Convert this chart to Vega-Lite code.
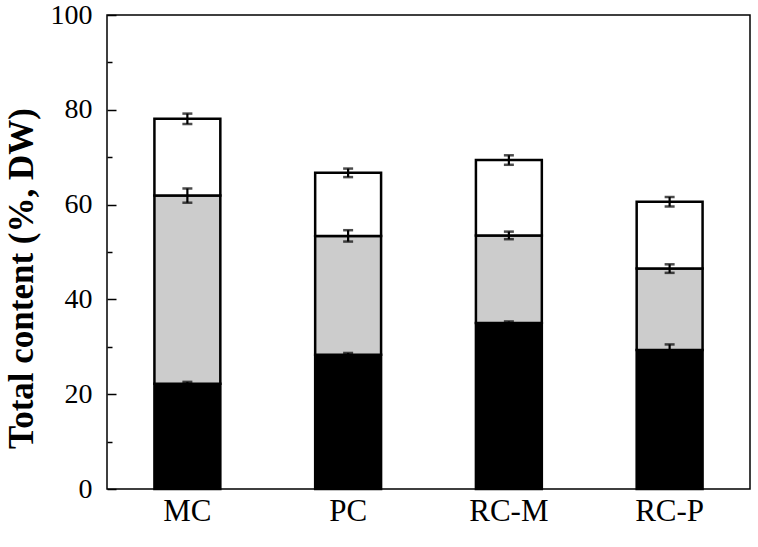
{
  "$schema": "https://vega.github.io/schema/vega-lite/v6.json",
  "width": 643,
  "height": 474,
  "autosize": {"type": "none"},
  "padding": {"left": 107, "top": 15, "right": 8, "bottom": 58},
  "background": "white",
  "config": {
    "view": {"stroke": "black", "strokeWidth": 1.5},
    "font": "Liberation Serif"
  },
  "data": {
    "values": [
      {"cat": "MC", "comp": "c1", "lo": 0, "hi": 22.2, "err": 0.4},
      {"cat": "MC", "comp": "c2", "lo": 22.2, "hi": 61.9, "err": 1.5},
      {"cat": "MC", "comp": "c3", "lo": 61.9, "hi": 78.1, "err": 1.1},
      {"cat": "PC", "comp": "c1", "lo": 0, "hi": 28.3, "err": 0.4},
      {"cat": "PC", "comp": "c2", "lo": 28.3, "hi": 53.4, "err": 1.2},
      {"cat": "PC", "comp": "c3", "lo": 53.4, "hi": 66.7, "err": 0.9},
      {"cat": "RC-M", "comp": "c1", "lo": 0, "hi": 35.0, "err": 0.35},
      {"cat": "RC-M", "comp": "c2", "lo": 35.0, "hi": 53.5, "err": 0.8},
      {"cat": "RC-M", "comp": "c3", "lo": 53.5, "hi": 69.4, "err": 1.0},
      {"cat": "RC-P", "comp": "c1", "lo": 0, "hi": 29.3, "err": 1.2},
      {"cat": "RC-P", "comp": "c2", "lo": 29.3, "hi": 46.5, "err": 0.9},
      {"cat": "RC-P", "comp": "c3", "lo": 46.5, "hi": 60.6, "err": 1.0}
    ]
  },
  "encoding": {
    "x": {
      "field": "cat",
      "type": "nominal",
      "sort": ["MC", "PC", "RC-M", "RC-P"],
      "scale": {"paddingInner": 0.59, "paddingOuter": 0.295},
      "axis": {
        "title": null,
        "ticks": false,
        "domain": false,
        "labelAngle": 0,
        "labelFont": "Liberation Serif",
        "labelFontSize": 31,
        "labelColor": "black",
        "labelPadding": 7,
        "labelBaseline": "top"
      }
    }
  },
  "layer": [
    {
      "mark": {"type": "bar", "stroke": "black", "strokeWidth": 2.5},
      "encoding": {
        "y": {
          "field": "lo",
          "type": "quantitative",
          "title": "Total content (%, DW)",
          "scale": {"domain": [0, 100], "nice": false},
          "axis": {
            "values": [0, 10, 20, 30, 40, 50, 60, 70, 80, 90, 100],
            "labelExpr": "datum.value % 20 === 0 ? datum.label : ''",
            "tickSize": {"condition": {"test": "datum.value % 20 === 0", "value": -9}, "value": -5},
            "tickColor": "black",
            "tickWidth": 1.5,
            "domain": false,
            "grid": false,
            "labelFont": "Liberation Serif",
            "labelFontSize": 28,
            "labelColor": "black",
            "labelPadding": 24,
            "title": "Total content (%, DW)",
            "titleFont": "Liberation Serif",
            "titleFontSize": 35,
            "titleFontWeight": "bold",
            "titleColor": "black",
            "titleAngle": -90,
            "titleBaseline": "bottom",
            "titleAlign": "center",
            "titleX": -68,
            "titleY": 263
          }
        },
        "y2": {"field": "hi", "title": null},
        "color": {
          "field": "comp",
          "type": "nominal",
          "scale": {"domain": ["c1", "c2", "c3"], "range": ["black", "#cccccc", "white"]},
          "legend": null
        }
      }
    },
    {
      "mark": {
        "type": "errorbar",
        "color": "black",
        "ticks": {"size": 10, "thickness": 2.5, "color": "black"},
        "rule": {"strokeWidth": 2.2, "color": "black"}
      },
      "encoding": {
        "y": {"field": "hi", "type": "quantitative", "title": "Total content (%, DW)"},
        "yError": {"field": "err"}
      }
    }
  ]
}
